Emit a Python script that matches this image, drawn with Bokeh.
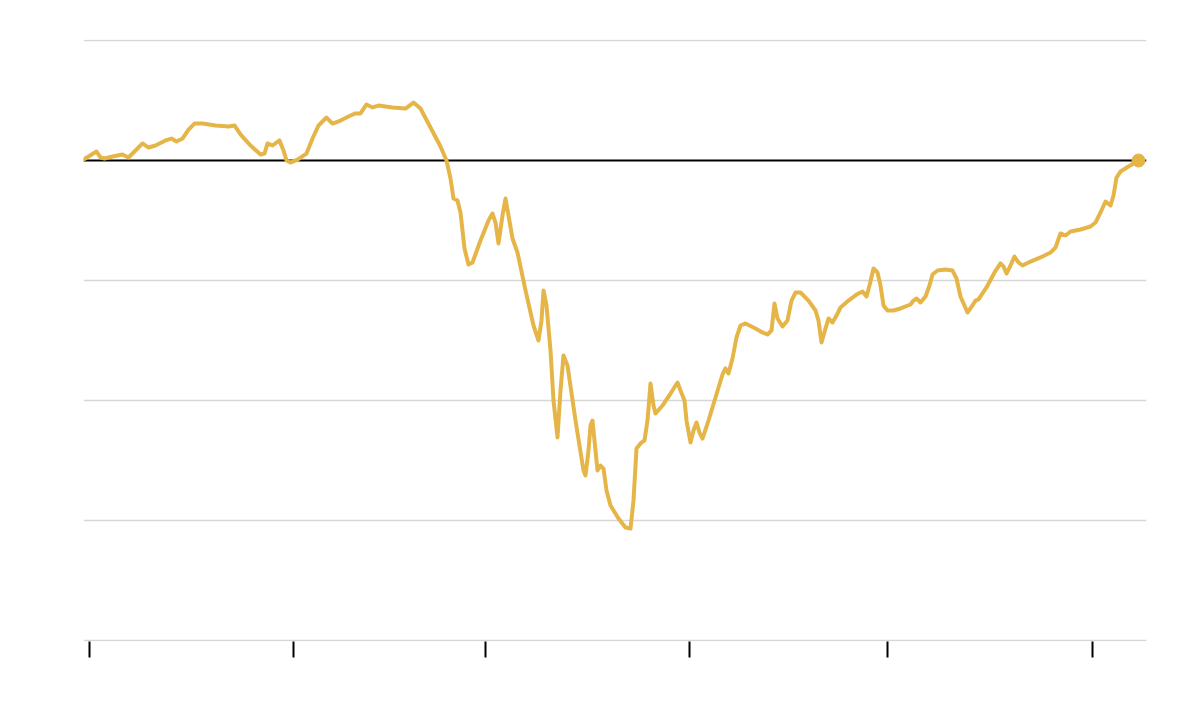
from bokeh.plotting import figure
from bokeh.models import FixedTicker, Span, Range1d
from bokeh.embed import file_html
from bokeh.resources import INLINE

# x: day index, y: % change from start
days = [0, 13, 17, 21, 29, 39, 45, 52, 59, 65, 72, 82, 88, 93, 99, 105, 111, 119, 132, 145, 151, 157, 167, 177,
        181, 184, 189, 196, 200, 203, 207, 214, 223, 229, 235, 243, 249, 257, 267, 272, 277, 283, 289, 295,
        309, 322, 330, 337, 347, 357, 363, 367, 370, 374, 377, 381, 385, 389, 397, 405, 409, 412, 415, 419,
        422, 425, 429, 434, 442, 450, 455, 458, 460, 463, 467, 470, 474, 477, 480, 484, 492, 500, 502, 505,
        507, 509, 512, 514, 517, 520, 523, 527, 535, 542, 547, 550, 553, 557, 561, 564, 567, 570, 572, 579,
        587, 594, 597, 601, 603, 607, 610, 613, 616, 619, 625, 632, 639, 642, 645, 649, 653, 657, 662, 672,
        679, 684, 688, 691, 694, 699, 704, 708, 712, 717, 725, 732, 735, 738, 742, 745, 749, 753, 757, 765,
        773, 779, 783, 786, 790, 794, 797, 800, 804, 810, 817, 827, 830, 833, 837, 842, 846, 849, 854, 862,
        869, 873, 877, 884, 889, 892, 895, 903, 911, 917, 920, 923, 927, 931, 935, 939, 947, 957, 967, 972,
        977, 982, 987, 997, 1007, 1012, 1017, 1022, 1027, 1030, 1033, 1037, 1045, 1055]
pixel_y = [159, 151, 157, 158, 156, 154, 157, 150, 143, 147, 145, 140, 138, 141, 138, 129, 123, 123, 125, 126,
           125, 134, 145, 154, 153, 143, 145, 140, 150, 160, 162, 159, 153, 138, 125, 117, 123, 120, 115, 113,
           113, 104, 107, 105, 107, 108, 102, 108, 127, 146, 160, 178, 198, 200, 212, 248, 264, 262, 240, 220,
           213, 222, 243, 215, 198, 215, 238, 252, 290, 325, 340, 320, 290, 305, 350, 400, 437, 390, 355, 365,
           420, 470, 475, 450, 425, 420, 450, 470, 465, 468, 490, 505, 518, 527, 528, 500, 448, 443, 440, 420,
           383, 405, 413, 405, 393, 382, 390, 400, 420, 442, 430, 422, 432, 438, 420, 397, 374, 368, 373, 358,
           337, 325, 323, 328, 332, 334, 330, 303, 318, 326, 320, 300, 292, 292, 300, 310, 320, 342, 328, 318,
           322, 315, 307, 300, 294, 291, 296, 285, 268, 272, 285, 305, 310, 310, 308, 304, 300, 298, 302, 296,
           285, 274, 270, 269, 270, 278, 296, 312, 305, 300, 299, 287, 272, 263, 266, 273, 265, 256, 262, 265,
           261, 257, 252, 247, 233, 235, 231, 229, 226, 222, 212, 201, 205, 195, 177, 171, 166, 160]
change = [round((160 - v) / 12.0, 2) for v in pixel_y]

tick_days = [6, 210, 402, 606, 804, 1009]
grid_levels = [-40, -30, -20, -10, 10]

LINE = "#E6B548"

# frame: x 83..1146 (1 px per day), y 39..641 (12 px per point)
p = figure(width=1184, height=704, output_backend="svg", toolbar_location=None,
           x_range=Range1d(0, 1063), y_range=Range1d(-40.0833, 10.0833),
           min_border_left=83, min_border_right=38, min_border_top=39, min_border_bottom=63,
           background_fill_color="white", border_fill_color="white")
p.outline_line_color = None

p.xaxis.ticker = FixedTicker(ticks=tick_days)
p.xaxis.bounds = (0, 1057)
p.xaxis.major_label_overrides = {t: "" for t in tick_days}
p.xaxis.major_label_text_font_size = "0px"
p.xaxis.axis_line_color = None
p.xaxis.major_tick_line_color = "black"
p.xaxis.major_tick_line_width = 2
p.xaxis.major_tick_in = 0
p.xaxis.major_tick_out = 16
p.xaxis.minor_tick_line_color = None
p.xgrid.grid_line_color = None

p.yaxis.visible = False
p.ygrid.ticker = FixedTicker(ticks=grid_levels)
p.ygrid.grid_line_color = "#d6d6d6"
p.ygrid.grid_line_width = 1.5

zero = Span(location=0, dimension="width", line_color="black", line_width=2, level="underlay")
p.add_layout(zero)

p.line(days, change, line_color=LINE, line_width=4, line_join="round", line_cap="round")
p.scatter([days[-1]], [change[-1]], size=13, color=LINE)

open("out.html", "w").write(file_html(p, INLINE))
